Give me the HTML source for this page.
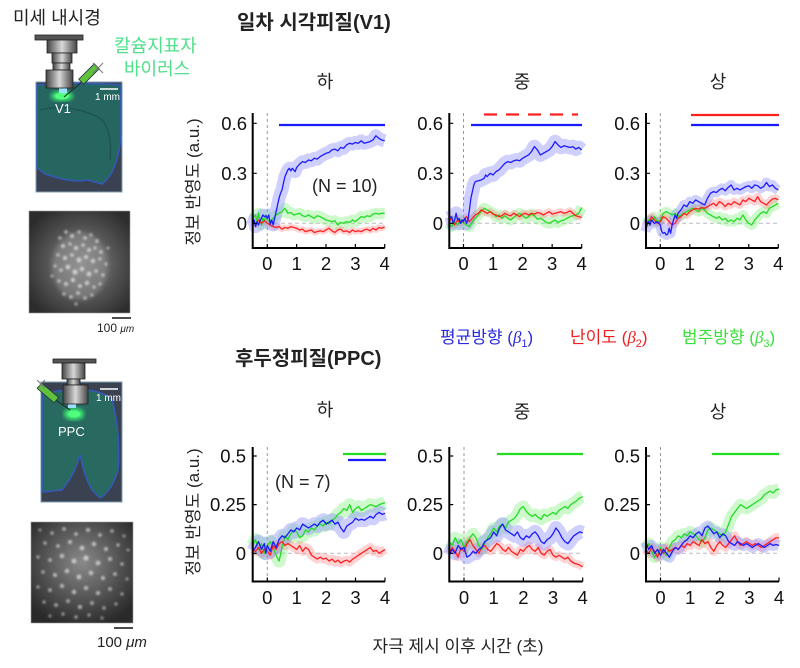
<!DOCTYPE html>
<html><head><meta charset="utf-8">
<style>
body{margin:0;background:#fff;}
svg{display:block;font-family:"Liberation Sans","Noto Sans CJK KR",sans-serif;}
.b{stroke:#1a1aff}.r{stroke:#ff2020}.g{stroke:#22dd22}
.bb{stroke:#8484ff;stroke-opacity:.38}.rb{stroke:#ff8080;stroke-opacity:.35}.gb{stroke:#70ee70;stroke-opacity:.35}
.ln{stroke-width:1.3}
.ax{stroke:#000;stroke-width:2;fill:none}
.tk{stroke:#000;stroke-width:1.2}
.dv{stroke:#999;stroke-width:1;stroke-dasharray:3 3}
.dh{stroke:#bbb;stroke-width:1;stroke-dasharray:4 3}
.tl{font-size:18.5px;fill:#111}
.sig{stroke-width:2.2}
</style></head><body>
<svg width="800" height="668" viewBox="0 0 800 668">
<defs>
<linearGradient id="mg" x1="0" x2="1" y1="0" y2="0"><stop offset="0" stop-color="#444"/><stop offset=".5" stop-color="#d8d8d8"/><stop offset="1" stop-color="#444"/></linearGradient>
<radialGradient id="fl1" cx="0.52" cy="0.52" r="0.62"><stop offset="0" stop-color="#8e8e8e"/><stop offset=".55" stop-color="#555"/><stop offset="1" stop-color="#2c2c2c"/></radialGradient>
<radialGradient id="fl2" cx="0.5" cy="0.4" r="0.65"><stop offset="0" stop-color="#8a8a8a"/><stop offset=".6" stop-color="#505050"/><stop offset="1" stop-color="#2a2a2a"/></radialGradient>
<filter id="bl"><feGaussianBlur stdDeviation="2"/></filter>
<filter id="bl1"><feGaussianBlur stdDeviation="1"/></filter>

<polyline id="a1b" fill="none" vector-effect="non-scaling-stroke" stroke-linejoin="round" points="-50,-10 -45,20 -40,-20 -35,10 -30,-10 -25,15 -20,30 -15,50 -10,40 -5,45 0,30 5,50 10,-5 15,20 20,-10 25,30 30,70 35,110 40,150 45,180 50,200 55,240 60,280 65,300 70,320 75,330 80,315 85,330 90,320 95,310 100,335 110,355 120,370 130,365 140,380 150,375 160,390 170,385 180,400 190,410 200,420 210,425 220,440 230,445 240,435 250,455 260,450 270,470 280,480 290,475 300,485 310,480 320,495 330,480 340,485 350,490 360,500 370,525 380,510 390,500 400,495"/>
<polyline id="a1g" fill="none" vector-effect="non-scaling-stroke" stroke-linejoin="round" points="-50,30 -40,50 -35,10 -30,60 -25,20 -20,-10 -15,30 -10,10 -5,50 0,20 10,10 20,30 30,50 40,60 50,70 60,90 70,60 80,65 90,50 100,55 110,60 120,45 130,40 140,50 150,40 160,30 170,45 180,40 190,30 200,20 210,15 220,10 230,15 240,-10 250,5 260,0 270,10 280,5 290,20 300,10 310,25 320,40 330,35 340,45 350,40 360,55 370,60 380,55 390,60 400,60"/>
<polyline id="a1r" fill="none" vector-effect="non-scaling-stroke" stroke-linejoin="round" points="-50,10 -40,-10 -30,20 -20,0 -10,15 0,0 10,-10 20,-20 30,-25 40,-20 50,-35 60,-25 70,-30 80,-20 90,-25 100,-30 110,-40 120,-35 130,-50 140,-45 150,-40 160,-55 170,-50 180,-45 190,-50 200,-40 210,-30 220,-45 230,-55 240,-40 250,-35 260,-50 270,-45 280,-55 290,-40 300,-50 310,-45 320,-50 330,-40 340,-35 350,-45 360,-30 370,-40 380,-25 390,-30 400,-20"/>

<polyline id="a2b" fill="none" vector-effect="non-scaling-stroke" stroke-linejoin="round" points="-50,30 -40,40 -35,0 -30,20 -25,60 -20,20 -15,30 -10,0 -5,20 0,10 5,30 10,0 15,20 20,80 25,150 30,190 35,230 40,250 50,255 60,260 70,270 75,290 80,280 90,300 100,290 110,310 120,320 130,340 140,360 150,370 160,365 170,375 180,380 190,375 200,390 210,400 220,410 230,430 240,460 250,440 260,410 270,420 280,430 290,440 300,460 310,490 320,470 330,455 340,465 350,460 360,455 370,460 380,445 390,455 400,440"/>
<polyline id="a2r" fill="none" vector-effect="non-scaling-stroke" stroke-linejoin="round" points="-50,10 -40,30 -30,-10 -20,20 -10,0 0,20 10,40 20,10 30,30 40,50 50,60 60,80 70,70 80,60 90,70 100,55 110,50 120,40 130,45 140,60 150,50 160,45 170,60 180,50 190,40 200,55 210,60 220,50 230,60 240,55 250,65 260,60 270,50 280,60 290,70 300,55 310,60 320,65 330,70 340,60 350,65 360,75 370,60 380,45 390,40 400,35"/>
<polyline id="a2g" fill="none" vector-effect="non-scaling-stroke" stroke-linejoin="round" points="-50,0 -40,-20 -30,10 -20,-10 -10,20 0,0 10,-10 20,-20 30,10 40,30 50,50 60,70 70,90 80,80 90,70 100,60 110,40 120,50 130,30 140,45 150,30 160,20 170,35 180,50 190,60 200,45 210,30 220,40 230,55 240,45 250,25 260,30 270,20 280,5 290,0 300,10 310,20 320,5 330,15 340,20 350,30 360,40 370,45 380,50 390,60 400,95"/>

<polyline id="a3b" fill="none" vector-effect="non-scaling-stroke" stroke-linejoin="round" points="-50,-50 -45,-10 -40,10 -35,-10 -30,20 -20,0 -10,10 0,-10 5,-50 10,-60 15,-55 20,-70 25,-65 30,-30 35,-60 40,-10 45,20 50,50 55,30 60,60 70,80 80,110 90,100 100,130 110,120 120,140 130,130 140,120 150,110 160,150 170,180 180,190 190,185 200,200 210,210 220,195 230,215 240,230 250,200 260,210 270,200 280,210 290,220 300,225 310,210 320,230 330,225 340,210 350,220 360,245 370,220 380,230 390,210 400,200"/>
<polyline id="a3r" fill="none" vector-effect="non-scaling-stroke" stroke-linejoin="round" points="-50,20 -40,0 -30,40 -20,20 -10,0 0,10 10,40 20,30 30,10 40,-10 50,0 60,30 70,40 80,60 90,50 100,70 110,80 120,90 130,85 140,95 150,90 160,100 170,110 180,120 190,105 200,130 210,120 220,100 230,120 240,110 250,130 260,120 270,110 280,140 290,130 300,150 310,140 320,130 330,160 340,130 350,120 360,110 370,130 380,145 390,150 400,140"/>
<polyline id="a3g" fill="none" vector-effect="non-scaling-stroke" stroke-linejoin="round" points="-50,0 -40,20 -30,10 -20,40 -10,10 0,20 10,60 20,70 30,60 40,50 50,60 60,40 70,50 80,60 90,70 100,80 110,90 120,80 130,70 140,90 150,80 160,60 170,50 180,40 190,30 200,40 210,20 220,30 230,10 240,20 250,10 260,30 270,20 280,50 290,20 300,0 310,-10 320,20 330,40 340,60 350,70 360,60 370,90 380,100 390,110 400,120"/>

<polyline id="b1b" fill="none" vector-effect="non-scaling-stroke" stroke-linejoin="round" points="-50,10 -40,30 -30,60 -20,20 -10,50 -5,0 0,40 10,10 20,60 30,30 40,70 50,90 60,80 70,100 80,120 90,110 100,130 110,120 120,150 130,140 140,130 150,140 160,150 170,140 180,160 190,170 200,150 210,160 220,170 230,150 240,160 250,130 260,110 270,140 280,150 290,160 300,180 310,170 320,175 330,170 340,180 350,190 360,180 370,200 380,210 390,200 400,205"/>
<polyline id="b1g" fill="none" vector-effect="non-scaling-stroke" stroke-linejoin="round" points="-50,40 -40,70 -30,20 -20,50 -10,0 0,40 10,60 20,30 30,-10 40,-40 50,30 60,90 70,70 80,100 90,120 100,110 110,80 120,90 130,120 140,110 150,130 160,120 170,140 180,150 190,140 200,160 210,150 220,170 230,180 240,200 250,210 260,230 270,220 280,250 290,210 300,230 310,240 320,220 330,230 340,240 350,250 360,245 370,240 380,250 390,255 400,260"/>
<polyline id="b1r" fill="none" vector-effect="non-scaling-stroke" stroke-linejoin="round" points="-50,20 -40,10 -30,30 -20,0 -10,20 0,10 10,-10 20,40 30,20 40,50 50,60 60,40 70,50 80,40 90,30 100,20 110,40 120,10 130,30 140,20 150,-10 160,-20 170,-30 180,-20 190,-30 200,-25 210,-40 220,-30 230,-45 240,-35 250,-50 260,-40 270,-35 280,-45 290,-30 300,-20 310,-10 320,0 330,10 340,20 350,30 360,10 370,15 380,0 390,10 400,20"/>

<polyline id="b2g" fill="none" vector-effect="non-scaling-stroke" stroke-linejoin="round" points="-50,60 -40,40 -30,80 -20,50 -10,70 0,30 10,60 20,80 30,100 40,80 50,40 60,20 70,50 80,80 90,100 100,130 110,110 120,140 130,150 140,130 150,160 160,170 170,180 180,200 190,230 200,240 210,215 220,200 230,190 240,200 250,185 260,175 270,200 280,190 290,200 300,210 310,200 320,220 330,230 340,240 350,230 360,250 370,260 380,270 390,285 400,290"/>
<polyline id="b2b" fill="none" vector-effect="non-scaling-stroke" stroke-linejoin="round" points="-50,-10 -40,20 -30,0 -20,40 -10,20 0,30 10,-20 20,-10 30,10 40,0 50,20 60,30 70,60 80,70 90,80 100,110 110,90 120,130 130,150 140,120 150,110 160,100 170,90 180,110 190,80 200,70 210,90 220,80 230,100 240,110 250,90 260,60 270,50 280,70 290,80 300,100 310,130 320,110 330,80 340,60 350,50 360,70 370,90 380,100 390,110 400,105"/>
<polyline id="b2r" fill="none" vector-effect="non-scaling-stroke" stroke-linejoin="round" points="-50,0 -40,30 -30,10 -20,-20 -10,30 0,10 10,50 20,70 30,40 40,20 50,0 60,30 70,40 80,20 90,10 100,30 110,50 120,40 130,20 140,10 150,30 160,10 170,0 180,-10 190,20 200,10 210,30 220,40 230,20 240,10 250,30 260,0 270,-10 280,10 290,20 300,-10 310,-20 320,-10 330,-20 340,-30 350,-20 360,-40 370,-50 380,-55 390,-60 400,-70"/>

<polyline id="b3g" fill="none" vector-effect="non-scaling-stroke" stroke-linejoin="round" points="-50,20 -40,50 -30,10 -20,-20 -10,0 0,30 10,10 20,-10 30,30 40,60 50,70 60,90 70,80 80,100 90,90 100,110 110,100 120,90 130,70 140,60 150,80 160,120 170,130 180,120 190,110 200,100 210,90 220,110 230,150 240,190 250,210 260,230 270,250 280,240 290,230 300,240 310,250 320,260 330,270 340,280 350,300 360,310 370,320 380,310 390,325 400,330"/>
<polyline id="b3b" fill="none" vector-effect="non-scaling-stroke" stroke-linejoin="round" points="-50,60 -40,20 -30,40 -20,0 -10,20 0,-10 10,20 20,0 30,-20 40,10 50,30 60,20 70,40 80,60 90,70 100,90 110,80 120,100 130,110 140,90 150,130 160,140 170,120 180,100 190,110 200,80 210,100 220,90 230,60 240,50 250,40 260,60 270,50 280,40 290,50 300,40 310,30 320,40 330,50 340,40 350,30 360,40 370,50 380,40 390,45 400,40"/>
<polyline id="b3r" fill="none" vector-effect="non-scaling-stroke" stroke-linejoin="round" points="-50,20 -40,0 -30,30 -20,10 -10,-20 0,20 10,0 20,30 30,10 40,20 50,30 60,20 70,40 80,30 90,50 100,40 110,60 120,50 130,40 140,70 150,50 160,60 170,30 180,10 190,40 200,60 210,40 220,30 230,50 240,70 250,90 260,60 270,40 280,50 290,60 300,50 310,40 320,50 330,40 340,30 350,40 360,50 370,60 380,70 390,80 400,80"/>
</defs>

<!-- ===== LEFT ILLUSTRATIONS ===== -->
<text x="13" y="24" font-size="18" fill="#222">미세 내시경</text>
<text x="114" y="52" font-size="18" fill="#4ee08a">칼슘지표자</text>
<text x="124" y="75" font-size="18" fill="#4ee08a">바이러스</text>

<!-- top brain -->
<rect x="36" y="82" width="86" height="110" fill="#3a4150" stroke="#7e9cb4" stroke-width="1"/>
<path d="M37,85 C60,83 100,83 121,85 L121,135 C119,160 113,176 102,184 L88,180 C72,183 58,178 45,174 L37,168 Z" fill="#266660" stroke="#3558b8" stroke-width="1.5"/>
<path d="M40,110 C60,105 80,108 100,118 C108,124 112,140 110,160" fill="none" stroke="#1f5550" stroke-width="1.5"/>
<ellipse cx="62" cy="96" rx="11" ry="5" fill="#3cf070" filter="url(#bl)"/>
<ellipse cx="62" cy="96" rx="7" ry="3.5" fill="#50ff80"/>
<rect x="59" y="88" width="8" height="5" fill="#9ee0ff"/>
<line x1="100" y1="89" x2="118" y2="89" stroke="#fff" stroke-width="1.5"/>
<text x="95" y="100" font-size="10" fill="#fff">1 mm</text>
<text x="55" y="113" font-size="13" fill="#fff">V1</text>
<!-- top microscope -->
<rect x="35" y="35" width="48" height="5" fill="#555" stroke="#222" stroke-width="0.8"/>
<rect x="47" y="40" width="30" height="13" fill="url(#mg)" stroke="#222" stroke-width="0.8"/>
<rect x="52" y="53" width="20" height="10" fill="url(#mg)" stroke="#222" stroke-width="0.8"/>
<rect x="53" y="63" width="17" height="7" fill="url(#mg)" stroke="#222" stroke-width="0.8"/>
<rect x="46" y="70" width="27" height="18" fill="url(#mg)" stroke="#222" stroke-width="0.8"/>
<!-- top syringe -->
<line x1="82" y1="82" x2="64" y2="97" stroke="#222" stroke-width="1"/>
<g transform="translate(89,74) rotate(-45)"><rect x="-11" y="-3.5" width="22" height="7" fill="#5fc23a" stroke="#234" stroke-width="0.8"/></g>
<line x1="93" y1="63" x2="103" y2="73" stroke="#777" stroke-width="1"/>
<line x1="103" y1="63" x2="93" y2="73" stroke="#777" stroke-width="1"/>

<!-- top fluorescence -->
<rect x="29" y="211" width="101" height="102" fill="url(#fl1)" stroke="#999" stroke-width="0.6"/>
<ellipse cx="80" cy="266" rx="28" ry="34" fill="#9a9a9a" opacity="0.45" filter="url(#bl)"/>
<g fill="#fff" filter="url(#bl1)" opacity="0.6">
<circle cx="60" cy="238" r="1.6"/><circle cx="66" cy="232" r="1.8"/><circle cx="72" cy="236" r="2"/><circle cx="79" cy="232" r="1.6"/><circle cx="85" cy="238" r="1.8"/><circle cx="91" cy="235" r="1.5"/><circle cx="97" cy="241" r="1.8"/><circle cx="63" cy="246" r="2"/><circle cx="70" cy="244" r="1.6"/><circle cx="76" cy="248" r="2.2"/><circle cx="83" cy="245" r="1.8"/><circle cx="89" cy="250" r="2"/><circle cx="95" cy="248" r="1.6"/><circle cx="101" cy="252" r="1.8"/><circle cx="58" cy="255" r="1.6"/><circle cx="65" cy="258" r="2.2"/><circle cx="72" cy="255" r="1.8"/><circle cx="79" cy="260" r="2.4"/><circle cx="86" cy="257" r="2"/><circle cx="93" cy="261" r="2.2"/><circle cx="100" cy="259" r="1.6"/><circle cx="106" cy="264" r="1.5"/><circle cx="55" cy="266" r="1.5"/><circle cx="61" cy="270" r="1.8"/><circle cx="68" cy="267" r="2.4"/><circle cx="75" cy="272" r="2.6"/><circle cx="82" cy="269" r="2.2"/><circle cx="89" cy="274" r="2.4"/><circle cx="96" cy="271" r="1.8"/><circle cx="103" cy="275" r="1.6"/><circle cx="59" cy="281" r="1.6"/><circle cx="66" cy="284" r="2"/><circle cx="73" cy="280" r="2.2"/><circle cx="80" cy="286" r="2"/><circle cx="87" cy="283" r="2.2"/><circle cx="94" cy="287" r="1.6"/><circle cx="100" cy="284" r="1.5"/><circle cx="64" cy="294" r="1.6"/><circle cx="71" cy="297" r="1.8"/><circle cx="78" cy="293" r="1.8"/><circle cx="85" cy="298" r="1.6"/><circle cx="92" cy="295" r="1.5"/><circle cx="76" cy="304" r="1.5"/><circle cx="52" cy="276" r="1.4"/><circle cx="108" cy="248" r="1.4"/>
</g>
<line x1="112" y1="318" x2="131" y2="318" stroke="#111" stroke-width="1.5"/>
<text x="97" y="332" font-size="12" fill="#222">100 <tspan font-style="italic" font-size="10">μm</tspan></text>

<!-- bottom brain -->
<rect x="41" y="382" width="81" height="120" fill="#3a4150" stroke="#7e9cb4" stroke-width="1"/>
<path d="M42,395 C60,388 100,386 112,400 C118,420 120,450 118,470 C114,485 106,495 100,498 L92,490 C85,478 82,465 80,455 C76,470 70,480 62,490 L42,492 Z" fill="#286a60" stroke="#3558b8" stroke-width="1.5"/>
<ellipse cx="74" cy="414" rx="10" ry="6" fill="#3cf070" filter="url(#bl)"/>
<ellipse cx="74" cy="414" rx="6" ry="3.5" fill="#50ff80"/>
<rect x="68" y="404" width="8" height="4" fill="#9ee0ff"/>
<line x1="100" y1="389" x2="118" y2="389" stroke="#fff" stroke-width="1.5"/>
<text x="96" y="401" font-size="10" fill="#fff">1 mm</text>
<text x="58" y="436" font-size="13" fill="#fff">PPC</text>
<!-- bottom microscope -->
<rect x="53" y="359" width="43" height="4" fill="#555" stroke="#222" stroke-width="0.8"/>
<rect x="62" y="363" width="23" height="16" fill="url(#mg)" stroke="#222" stroke-width="0.8"/>
<rect x="67" y="379" width="13" height="6" fill="url(#mg)" stroke="#222" stroke-width="0.8"/>
<rect x="63" y="385" width="25" height="19" fill="url(#mg)" stroke="#222" stroke-width="0.8"/>
<line x1="53" y1="398" x2="70" y2="410" stroke="#222" stroke-width="1"/>
<g transform="translate(48,393) rotate(40)"><rect x="-11" y="-3.5" width="22" height="7" fill="#5fc23a" stroke="#234" stroke-width="0.8"/></g>
<line x1="37" y1="380" x2="45" y2="388" stroke="#777" stroke-width="1"/>
<line x1="45" y1="380" x2="37" y2="388" stroke="#777" stroke-width="1"/>

<!-- bottom fluorescence -->
<rect x="31" y="522" width="102" height="101" fill="url(#fl2)" stroke="#999" stroke-width="0.6"/>
<g fill="#fff" filter="url(#bl1)" opacity="0.6">
<circle cx="40" cy="530" r="1.4"/><circle cx="52" cy="533" r="1.6"/><circle cx="64" cy="529" r="1.8"/><circle cx="76" cy="534" r="1.8"/><circle cx="88" cy="530" r="2"/><circle cx="100" cy="535" r="1.8"/><circle cx="112" cy="531" r="1.6"/><circle cx="124" cy="536" r="1.4"/>
<circle cx="45" cy="543" r="1.6"/><circle cx="58" cy="546" r="1.8"/><circle cx="70" cy="542" r="2"/><circle cx="82" cy="548" r="2.4"/><circle cx="94" cy="544" r="2.2"/><circle cx="106" cy="549" r="2"/><circle cx="118" cy="545" r="1.6"/><circle cx="128" cy="550" r="1.3"/>
<circle cx="38" cy="557" r="1.5"/><circle cx="50" cy="560" r="1.8"/><circle cx="62" cy="556" r="2.2"/><circle cx="74" cy="561" r="2.4"/><circle cx="86" cy="558" r="2.6"/><circle cx="98" cy="563" r="2.4"/><circle cx="110" cy="559" r="2"/><circle cx="122" cy="564" r="1.6"/>
<circle cx="43" cy="572" r="1.6"/><circle cx="55" cy="575" r="2"/><circle cx="67" cy="571" r="2.2"/><circle cx="79" cy="577" r="2.4"/><circle cx="91" cy="573" r="2.2"/><circle cx="103" cy="578" r="2"/><circle cx="115" cy="574" r="1.8"/><circle cx="127" cy="579" r="1.4"/>
<circle cx="38" cy="587" r="1.5"/><circle cx="50" cy="590" r="1.8"/><circle cx="62" cy="586" r="2"/><circle cx="74" cy="592" r="2.2"/><circle cx="86" cy="588" r="2"/><circle cx="98" cy="593" r="2"/><circle cx="110" cy="589" r="1.8"/><circle cx="122" cy="594" r="1.5"/>
<circle cx="44" cy="602" r="1.5"/><circle cx="56" cy="605" r="1.8"/><circle cx="68" cy="601" r="1.8"/><circle cx="80" cy="607" r="2"/><circle cx="92" cy="603" r="1.8"/><circle cx="104" cy="608" r="1.6"/><circle cx="116" cy="604" r="1.5"/>
<circle cx="50" cy="616" r="1.4"/><circle cx="63" cy="614" r="1.5"/><circle cx="76" cy="617" r="1.6"/><circle cx="89" cy="615" r="1.5"/><circle cx="102" cy="618" r="1.4"/>
</g>
<line x1="114" y1="628" x2="133" y2="628" stroke="#111" stroke-width="1.5"/>
<text x="97" y="647" font-size="15" fill="#222">100 <tspan font-style="italic">μm</tspan></text>

<!-- ===== TITLES ===== -->
<text x="237" y="29" font-size="20" font-weight="bold" fill="#222">일차 시각피질(V1)</text>
<text x="235" y="365" font-size="20" font-weight="bold" fill="#222">후두정피질(PPC)</text>
<g font-size="18" fill="#222" text-anchor="middle">
<text x="325" y="88">하</text><text x="522" y="88">중</text><text x="718" y="88">상</text>
<text x="325" y="416">하</text><text x="522" y="418">중</text><text x="718" y="418">상</text>
</g>
<text transform="translate(199,182) rotate(-90)" font-size="17" fill="#222" text-anchor="middle">정보 반영도 (a.u.)</text>
<text transform="translate(199,512) rotate(-90)" font-size="17" fill="#222" text-anchor="middle">정보 반영도 (a.u.)</text>
<text x="458" y="652" font-size="17" fill="#222" text-anchor="middle">자극 제시 이후 시간 (초)</text>

<!-- legend -->
<g font-size="17">
<text x="440" y="343" fill="#2a2ae0">평균방향 (<tspan font-style="italic" font-family="Liberation Serif">β</tspan><tspan font-size="11" dy="4">1</tspan><tspan dy="-4">)</tspan></text>
<text x="570" y="343" fill="#f02020">난이도 (<tspan font-style="italic" font-family="Liberation Serif">β</tspan><tspan font-size="11" dy="4">2</tspan><tspan dy="-4">)</tspan></text>
<text x="682" y="343" fill="#3ae03a">범주방향 (<tspan font-style="italic" font-family="Liberation Serif">β</tspan><tspan font-size="11" dy="4">3</tspan><tspan dy="-4">)</tspan></text>
</g>

<!-- ===== TOP ROW ===== -->
<!-- P1 -->
<line class="dv" x1="267.3" y1="113" x2="267.3" y2="248"/>
<line class="dh" x1="253" y1="223.3" x2="384.7" y2="223.3"/>
<g transform="translate(267.3,223.3) scale(0.2935,-0.1667)">
<use href="#a1g" class="gb" style="stroke-width:11"/><use href="#a1r" class="rb" style="stroke-width:6"/><use href="#a1b" class="bb" style="stroke-width:13"/>
<use href="#a1g" class="g ln"/><use href="#a1r" class="r ln"/><use href="#a1b" class="b ln"/>
</g>
<line class="b sig" x1="279" y1="125" x2="385" y2="125"/>
<text x="312" y="192" font-size="18" fill="#222">(N = 10)</text>
<path class="ax" d="M252.7,113 V248 H384.7"/>
<path class="tk" d="M267.3,248v-4M296.65,248v-4M326,248v-4M355.35,248v-4M384.7,248v-4M252.7,123.3h4M252.7,173.3h4M252.7,223.3h4"/>
<g class="tl" text-anchor="end"><text x="247" y="130">0.6</text><text x="247" y="180">0.3</text><text x="247" y="230">0</text></g>
<g class="tl" text-anchor="middle"><text x="267.3" y="270">0</text><text x="296.65" y="270">1</text><text x="326" y="270">2</text><text x="355.35" y="270">3</text><text x="384.7" y="270">4</text></g>

<!-- P2 -->
<line class="dv" x1="463.5" y1="113" x2="463.5" y2="248"/>
<line class="dh" x1="450" y1="223.3" x2="581.7" y2="223.3"/>
<g transform="translate(463.5,223.3) scale(0.2955,-0.1667)">
<use href="#a2g" class="gb" style="stroke-width:11"/><use href="#a2r" class="rb" style="stroke-width:7"/><use href="#a2b" class="bb" style="stroke-width:14"/>
<use href="#a2g" class="g ln"/><use href="#a2r" class="r ln"/><use href="#a2b" class="b ln"/>
</g>
<line class="r sig" x1="484" y1="114.5" x2="578" y2="114.5" stroke-dasharray="13 9"/>
<line class="b sig" x1="471" y1="125" x2="582" y2="125"/>
<path class="ax" d="M449.3,113 V248 H581.7"/>
<path class="tk" d="M463.5,248v-4M493.05,248v-4M522.6,248v-4M552.15,248v-4M581.7,248v-4M449.3,123.3h4M449.3,173.3h4M449.3,223.3h4"/>
<g class="tl" text-anchor="end"><text x="443" y="130">0.6</text><text x="443" y="180">0.3</text><text x="443" y="230">0</text></g>
<g class="tl" text-anchor="middle"><text x="463.5" y="270">0</text><text x="493.05" y="270">1</text><text x="522.6" y="270">2</text><text x="552.15" y="270">3</text><text x="581.7" y="270">4</text></g>

<!-- P3 -->
<line class="dv" x1="660.3" y1="113" x2="660.3" y2="248"/>
<line class="dh" x1="647" y1="223.3" x2="778.3" y2="223.3"/>
<g transform="translate(660.3,223.3) scale(0.295,-0.1667)">
<use href="#a3g" class="gb" style="stroke-width:10"/><use href="#a3r" class="rb" style="stroke-width:8"/><use href="#a3b" class="bb" style="stroke-width:10"/>
<use href="#a3g" class="g ln"/><use href="#a3r" class="r ln"/><use href="#a3b" class="b ln"/>
</g>
<line class="r sig" x1="691" y1="115" x2="779" y2="115"/>
<line class="b sig" x1="691" y1="125" x2="779" y2="125"/>
<path class="ax" d="M646,113 V248 H778.3"/>
<path class="tk" d="M660.3,248v-4M689.8,248v-4M719.3,248v-4M748.8,248v-4M778.3,248v-4M646,123.3h4M646,173.3h4M646,223.3h4"/>
<g class="tl" text-anchor="end"><text x="640" y="130">0.6</text><text x="640" y="180">0.3</text><text x="640" y="230">0</text></g>
<g class="tl" text-anchor="middle"><text x="660.3" y="270">0</text><text x="689.8" y="270">1</text><text x="719.3" y="270">2</text><text x="748.8" y="270">3</text><text x="778.3" y="270">4</text></g>

<!-- ===== BOTTOM ROW ===== -->
<!-- P1 -->
<line class="dv" x1="267.3" y1="447" x2="267.3" y2="581.5"/>
<line class="dh" x1="253" y1="553.3" x2="385" y2="553.3"/>
<g transform="translate(267.3,553.3) scale(0.2943,-0.1947)">
<use href="#b1g" class="gb" style="stroke-width:13"/><use href="#b1r" class="rb" style="stroke-width:9"/><use href="#b1b" class="bb" style="stroke-width:14"/>
<use href="#b1g" class="g ln"/><use href="#b1r" class="r ln"/><use href="#b1b" class="b ln"/>
</g>
<line class="g sig" x1="343" y1="454" x2="386" y2="454"/>
<line class="b sig" x1="348" y1="460" x2="386" y2="460"/>
<text x="275" y="488" font-size="18" fill="#222">(N = 7)</text>
<path class="ax" d="M252.7,447 V581.5 H385"/>
<path class="tk" d="M267.3,581.5v-4M296.7,581.5v-4M326.1,581.5v-4M355.5,581.5v-4M385,581.5v-4M252.7,456h4M252.7,504.6h4M252.7,553.3h4"/>
<g class="tl" text-anchor="end"><text x="246" y="462.5">0.5</text><text x="246" y="511">0.25</text><text x="246" y="560">0</text></g>
<g class="tl" text-anchor="middle"><text x="267.3" y="604">0</text><text x="296.7" y="604">1</text><text x="326.1" y="604">2</text><text x="355.5" y="604">3</text><text x="385" y="604">4</text></g>

<!-- P2 -->
<line class="dv" x1="464" y1="447" x2="464" y2="581.5"/>
<line class="dh" x1="450" y1="553.3" x2="582.7" y2="553.3"/>
<g transform="translate(464,553.3) scale(0.2967,-0.1947)">
<use href="#b2g" class="gb" style="stroke-width:12"/><use href="#b2r" class="rb" style="stroke-width:8"/><use href="#b2b" class="bb" style="stroke-width:14"/>
<use href="#b2g" class="g ln"/><use href="#b2r" class="r ln"/><use href="#b2b" class="b ln"/>
</g>
<line class="g sig" x1="497" y1="454" x2="583" y2="454"/>
<path class="ax" d="M449.3,447 V581.5 H582.7"/>
<path class="tk" d="M464,581.5v-4M493.7,581.5v-4M523.4,581.5v-4M553,581.5v-4M582.7,581.5v-4M449.3,456h4M449.3,504.6h4M449.3,553.3h4"/>
<g class="tl" text-anchor="end"><text x="443" y="462.5">0.5</text><text x="443" y="511">0.25</text><text x="443" y="560">0</text></g>
<g class="tl" text-anchor="middle"><text x="464" y="604">0</text><text x="493.7" y="604">1</text><text x="523.4" y="604">2</text><text x="553" y="604">3</text><text x="582.7" y="604">4</text></g>

<!-- P3 -->
<line class="dv" x1="660.5" y1="447" x2="660.5" y2="581.5"/>
<line class="dh" x1="647" y1="553.3" x2="779" y2="553.3"/>
<g transform="translate(660.5,553.3) scale(0.2963,-0.1947)">
<use href="#b3g" class="gb" style="stroke-width:12"/><use href="#b3r" class="rb" style="stroke-width:9"/><use href="#b3b" class="bb" style="stroke-width:11"/>
<use href="#b3g" class="g ln"/><use href="#b3r" class="r ln"/><use href="#b3b" class="b ln"/>
</g>
<line class="g sig" x1="712" y1="454" x2="779" y2="454"/>
<path class="ax" d="M646,447 V581.5 H779"/>
<path class="tk" d="M660.5,581.5v-4M690.1,581.5v-4M719.75,581.5v-4M749.4,581.5v-4M779,581.5v-4M646,456h4M646,504.6h4M646,553.3h4"/>
<g class="tl" text-anchor="end"><text x="640" y="462.5">0.5</text><text x="640" y="511">0.25</text><text x="640" y="560">0</text></g>
<g class="tl" text-anchor="middle"><text x="660.5" y="604">0</text><text x="690.1" y="604">1</text><text x="719.75" y="604">2</text><text x="749.4" y="604">3</text><text x="779" y="604">4</text></g>
</svg>
</body></html>
